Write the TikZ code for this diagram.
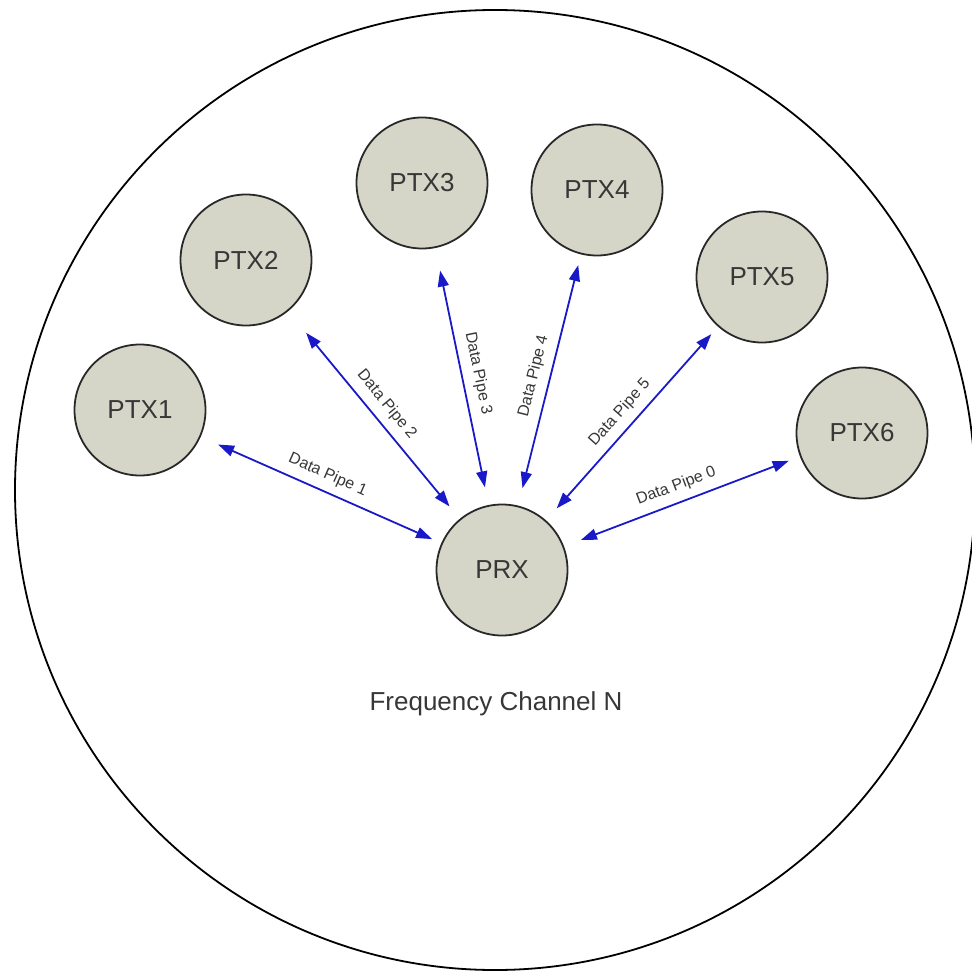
\documentclass[tikz,border=0pt]{standalone}
\usepackage{fontspec}
\setmainfont{Liberation Sans}
\usetikzlibrary{arrows.meta}

\definecolor{nodefill}{RGB}{214,214,200}
\definecolor{nodeline}{RGB}{40,40,40}
\definecolor{pipeblue}{RGB}{25,25,200}
\definecolor{labelgray}{RGB}{55,55,55}

\tikzset{
  radio/.style={circle, draw=nodeline, line width=1.8pt, fill=nodefill,
    minimum size=131pt, inner sep=0pt, text=labelgray,
    font=\fontsize{26}{30}\selectfont},
  pipe/.style={draw=pipeblue, line width=1.8pt,
    {Triangle[length=16pt,width=11pt]}-{Triangle[length=16pt,width=11pt]}},
  pipelabel/.style={sloped, above=6pt, inner sep=2pt, text=labelgray,
    font=\fontsize{16}{18}\selectfont},
  channel/.style={draw=black, line width=1.8pt}
}

\begin{document}
\begin{tikzpicture}[x=1pt, y=-1pt]
  \useasboundingbox (0,0) rectangle (971,973);

  % frequency channel boundary
  \draw[channel] (495,490) circle[radius=480];

  % transmitters and receiver
  \node[radio] (ptx1) at (140,410) {PTX1};
  \node[radio] (ptx2) at (246,260) {PTX2};
  \node[radio] (ptx3) at (422,183) {PTX3};
  \node[radio] (ptx4) at (597,190) {PTX4};
  \node[radio] (ptx5) at (762,277) {PTX5};
  \node[radio] (ptx6) at (862,433) {PTX6};
  \node[radio] (prx)  at (502,570) {PRX};

  % data pipes
  \draw[pipe, shorten <=19pt, shorten >=10pt] (ptx1) -- node[pipelabel] {Data Pipe 1} (prx);
  \draw[pipe, shorten <=28pt, shorten >=16pt] (ptx2) -- node[pipelabel] {Data Pipe 2} (prx);
  \draw[pipe, shorten <=23pt, shorten >=18pt] (ptx3) -- node[pipelabel] {Data Pipe 3} (prx);
  \draw[pipe, shorten <=18pt, shorten >=11pt] (prx) -- node[pipelabel] {Data Pipe 4} (ptx4);
  \draw[pipe, shorten <=16pt, shorten >=10pt] (prx) -- node[pipelabel] {Data Pipe 5} (ptx5);
  \draw[pipe, shorten <=18pt, shorten >=12pt] (prx) -- node[pipelabel] {Data Pipe 0} (ptx6);

  \node[text=labelgray, font=\fontsize{26}{30}\selectfont] (title) at (496,704) {Frequency Channel N};
\end{tikzpicture}
\end{document}
